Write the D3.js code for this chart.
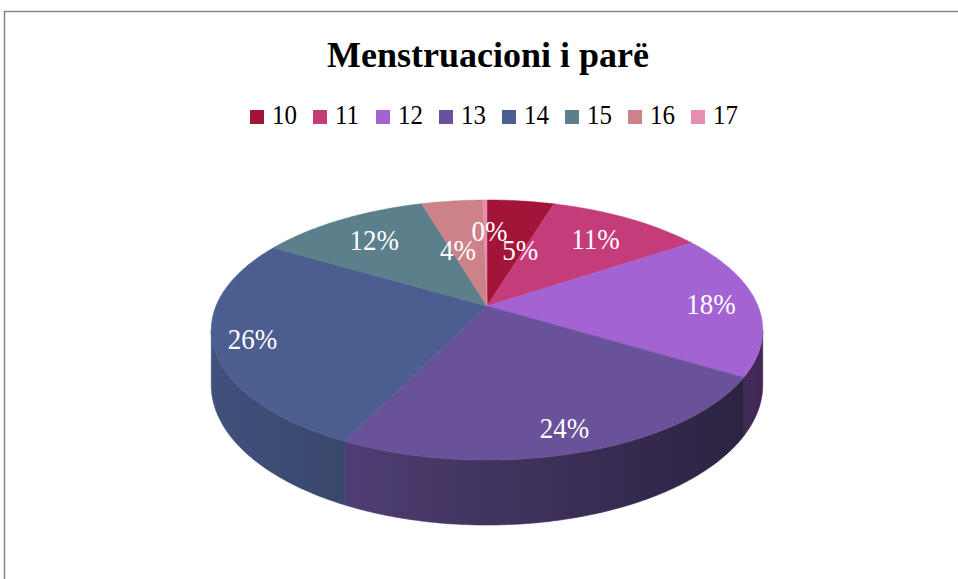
<!DOCTYPE html>
<html>
<head>
<meta charset="utf-8">
<script src="https://cdn.jsdelivr.net/npm/d3@7/dist/d3.min.js"></script>
<style>
  body { margin: 0; background: #fff; }
</style>
</head>
<body>
<script>
// chart data
var title = "Menstruacioni i parë";
var categories = ["10", "11", "12", "13", "14", "15", "16", "17"];
var values = [4.7, 11, 18, 23.7, 26.3, 12, 4.3, 0.3];
var colors = ["#A31538", "#C43C7A", "#A363D3", "#69529A", "#4C5E90", "#5B7F8B", "#CD8289", "#E48EB0"];

var serif = "'Liberation Serif', 'DejaVu Serif', serif";
var w = 958, h = 579;
// geometry of the tilted pie (perspective: near side bigger)
var cx = 487, cy = 306, rx = 271, ry = 125.6, k = 0.1846, depth = 53;
var stretch = 1.13; // text in the original looks a bit taller than wide

function project(angle, r) {
  var u = Math.sin(angle) * r, v = -Math.cos(angle) * r;
  var s = 1 / (1 - k * v);
  return [cx + rx * u * s, cy + ry * v * s, s];
}

function arcPoints(a0, a1) {
  var n = Math.max(2, Math.ceil((a1 - a0) / 0.01));
  var pts = [];
  for (var i = 0; i <= n; i++) {
    pts.push(project(a0 + (a1 - a0) * i / n, 1));
  }
  return pts;
}

function shade(c, f) {
  var col = d3.rgb(c);
  return d3.rgb(col.r * f, col.g * f, col.b * f).formatHex();
}

var svg = d3.select("body").append("svg")
  .attr("width", w)
  .attr("height", h);

// chart frame
svg.append("rect")
  .attr("x", 4.5).attr("y", 11.5)
  .attr("width", w + 20).attr("height", h + 20)
  .attr("fill", "none")
  .attr("stroke", "#868686")
  .attr("stroke-width", 1.5);

svg.append("text")
  .attr("x", 488).attr("y", 67)
  .attr("text-anchor", "middle")
  .style("font-family", serif)
  .style("font-size", "36px")
  .style("font-weight", "bold")
  .style("fill", "#000")
  .text(title);

// legend
var legendX = d3.scaleLinear().domain([0, categories.length - 1]).range([250, 691]);
var legend = svg.selectAll(".legend")
  .data(categories)
  .enter().append("g")
  .attr("class", "legend")
  .attr("transform", function(d, i) { return "translate(" + legendX(i) + ",110)"; });

legend.append("rect")
  .attr("width", 14).attr("height", 14)
  .style("fill", function(d, i) { return colors[i]; });

legend.append("text")
  .attr("transform", "translate(22,14) scale(1," + stretch + ")")
  .style("font-family", serif)
  .style("font-size", "25px")
  .style("fill", "#000")
  .text(function(d) { return d; });

// slices
var pie = d3.pie().sort(null).value(function(d) { return d; });
var slices = pie(values);
var total = d3.sum(values);

var defs = svg.append("defs");
slices.forEach(function(d, i) {
  var g = defs.append("linearGradient")
    .attr("id", "side" + i)
    .attr("gradientUnits", "userSpaceOnUse")
    .attr("x1", cx - rx * 1.02).attr("x2", cx + rx * 1.02)
    .attr("y1", 0).attr("y2", 0);
  g.append("stop").attr("offset", 0).attr("stop-color", shade(colors[i], 0.86));
  g.append("stop").attr("offset", 1).attr("stop-color", shade(colors[i], 0.4));
});

// visible part of the outer wall
var frontStart = Math.acos(-k), frontEnd = 2 * Math.PI - frontStart;
var line = d3.line();

slices.forEach(function(d, i) {
  var a0 = Math.max(d.startAngle, frontStart), a1 = Math.min(d.endAngle, frontEnd);
  if (a1 <= a0) return;
  var top = arcPoints(a0, a1);
  var bottom = top.map(function(p) { return [p[0], p[1] + depth * p[2]]; }).reverse();
  var pts = top.map(function(p) { return [p[0], p[1]]; }).concat(bottom);
  svg.append("path")
    .attr("d", line(pts) + "Z")
    .style("fill", "url(#side" + i + ")")
    .style("stroke", "url(#side" + i + ")")
    .style("stroke-width", 0.6);
});

// top faces
svg.selectAll(".slice")
  .data(slices)
  .enter().append("path")
  .attr("class", "slice")
  .attr("d", function(d) {
    var pts = [[cx, cy]].concat(arcPoints(d.startAngle, d.endAngle).map(function(p) { return [p[0], p[1]]; }));
    return line(pts) + "Z";
  })
  .style("fill", function(d, i) { return colors[i]; })
  .style("stroke", function(d, i) { return colors[i]; })
  .style("stroke-width", 0.5);

// percent labels
svg.selectAll(".label")
  .data(slices)
  .enter().append("text")
  .attr("class", "label")
  .attr("transform", function(d) {
    var mid = (d.startAngle + d.endAngle) / 2;
    var frac = d.value / total;
    var u = Math.sin(mid), v = -Math.cos(mid);
    var r = 0.7 + 0.13 * u * u + 0.15 * Math.max(0, v);
    var dx = 0;
    if (frac < 0.01) { r = 0.68; dx = 4; }
    else if (frac < 0.06) { r = 0.5; dx = u > 0 ? 15 : -10; }
    var p = project(mid, r);
    return "translate(" + (p[0] + dx) + "," + p[1] + ") scale(1," + stretch + ")";
  })
  .attr("dy", "0.35em")
  .attr("text-anchor", "middle")
  .style("font-family", serif)
  .style("font-size", "27px")
  .style("fill", "#fff")
  .text(function(d) { return Math.round(d.value / total * 100) + "%"; });
</script>
</body>
</html>
